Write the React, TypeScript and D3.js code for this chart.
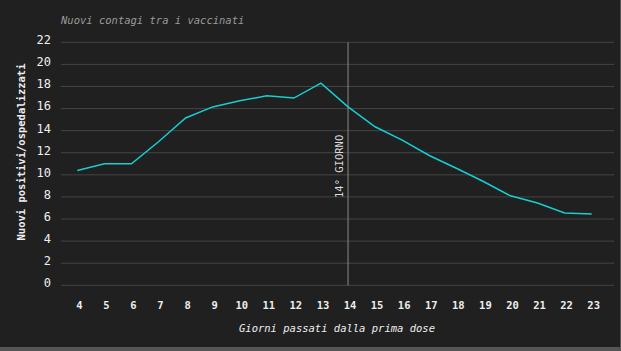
import React from 'react';
import * as d3 from 'd3';

const days = [4, 5, 6, 7, 8, 9, 10, 11, 12, 13, 14, 15, 16, 17, 18, 19, 20, 21, 22, 23];
const ratio = [10.4, 11.0, 11.0, 13.0, 15.15, 16.15, 16.7, 17.15, 16.95, 18.3, 16.15, 14.35, 13.15, 11.75, 10.6, 9.4, 8.1, 7.45, 6.55, 6.45];
const yTicks = [0, 2, 4, 6, 8, 10, 12, 14, 16, 18, 20, 22];
const markerDay = 14;

const width = 621;
const height = 351;
const mono = '"DejaVu Sans Mono", "Liberation Mono", monospace';

const App = () => {
    const x = d3.scaleLinear().domain([4, 23]).range([77.3, 591.7]);
    const y = d3.scaleLinear().domain([0, 22]).range([285.3, 42.3]);

    const line = d3.line<number>()
        .x((d, i) => x(days[i]))
        .y(d => y(d));

    return (
        <svg width={width} height={height}
            style={{ position: 'absolute', left: 0, top: 0, display: 'block' }}>
            <rect width={width} height={height} fill="#555" />
            <rect width={620} height={347} fill="#202020" />

            <text x={61} y={24} fill="#9a9a9a" fontFamily={mono} fontSize={10.5}
                fontStyle="italic">Nuovi contagi tra i vaccinati</text>

            {yTicks.map(t => (
                <g key={t}>
                    <line x1={61} x2={614} y1={y(t)} y2={y(t)} stroke="#444" strokeWidth={1} />
                    <text x={51} y={y(t)} dy="0.32em" dominantBaseline="auto" textAnchor="end"
                        fill="#eee" fontFamily={mono} fontSize={12} transform="translate(0,-2)">{t}</text>
                </g>
            ))}

            <line x1={x(markerDay)} x2={x(markerDay)} y1={y(22)} y2={y(0)} stroke="#8a8a8a" strokeWidth={1} />
            <text transform={`translate(${x(markerDay) - 5},198) rotate(-90)`} fill="#ddd"
                fontFamily={mono} fontSize={10.5}>14° GIORNO</text>

            <path d={line(ratio) || ''} fill="none" stroke="#14cfd3" strokeWidth={1.5} />

            {days.map(d => (
                <text key={d} x={x(d) + 2} y={309} textAnchor="middle" fill="#eee"
                    fontFamily={mono} fontSize={10.5} fontWeight="bold">{d}</text>
            ))}

            <text x={337} y={332} textAnchor="middle" fill="#eee" fontFamily={mono}
                fontSize={10.5} fontStyle="italic">Giorni passati dalla prima dose</text>

            <text transform="translate(25,152) rotate(-90)" textAnchor="middle" fill="#eee"
                fontFamily={mono} fontSize={10.5} fontWeight="bold">Nuovi positivi/ospedalizzati</text>
        </svg>
    );
};

export default App;
